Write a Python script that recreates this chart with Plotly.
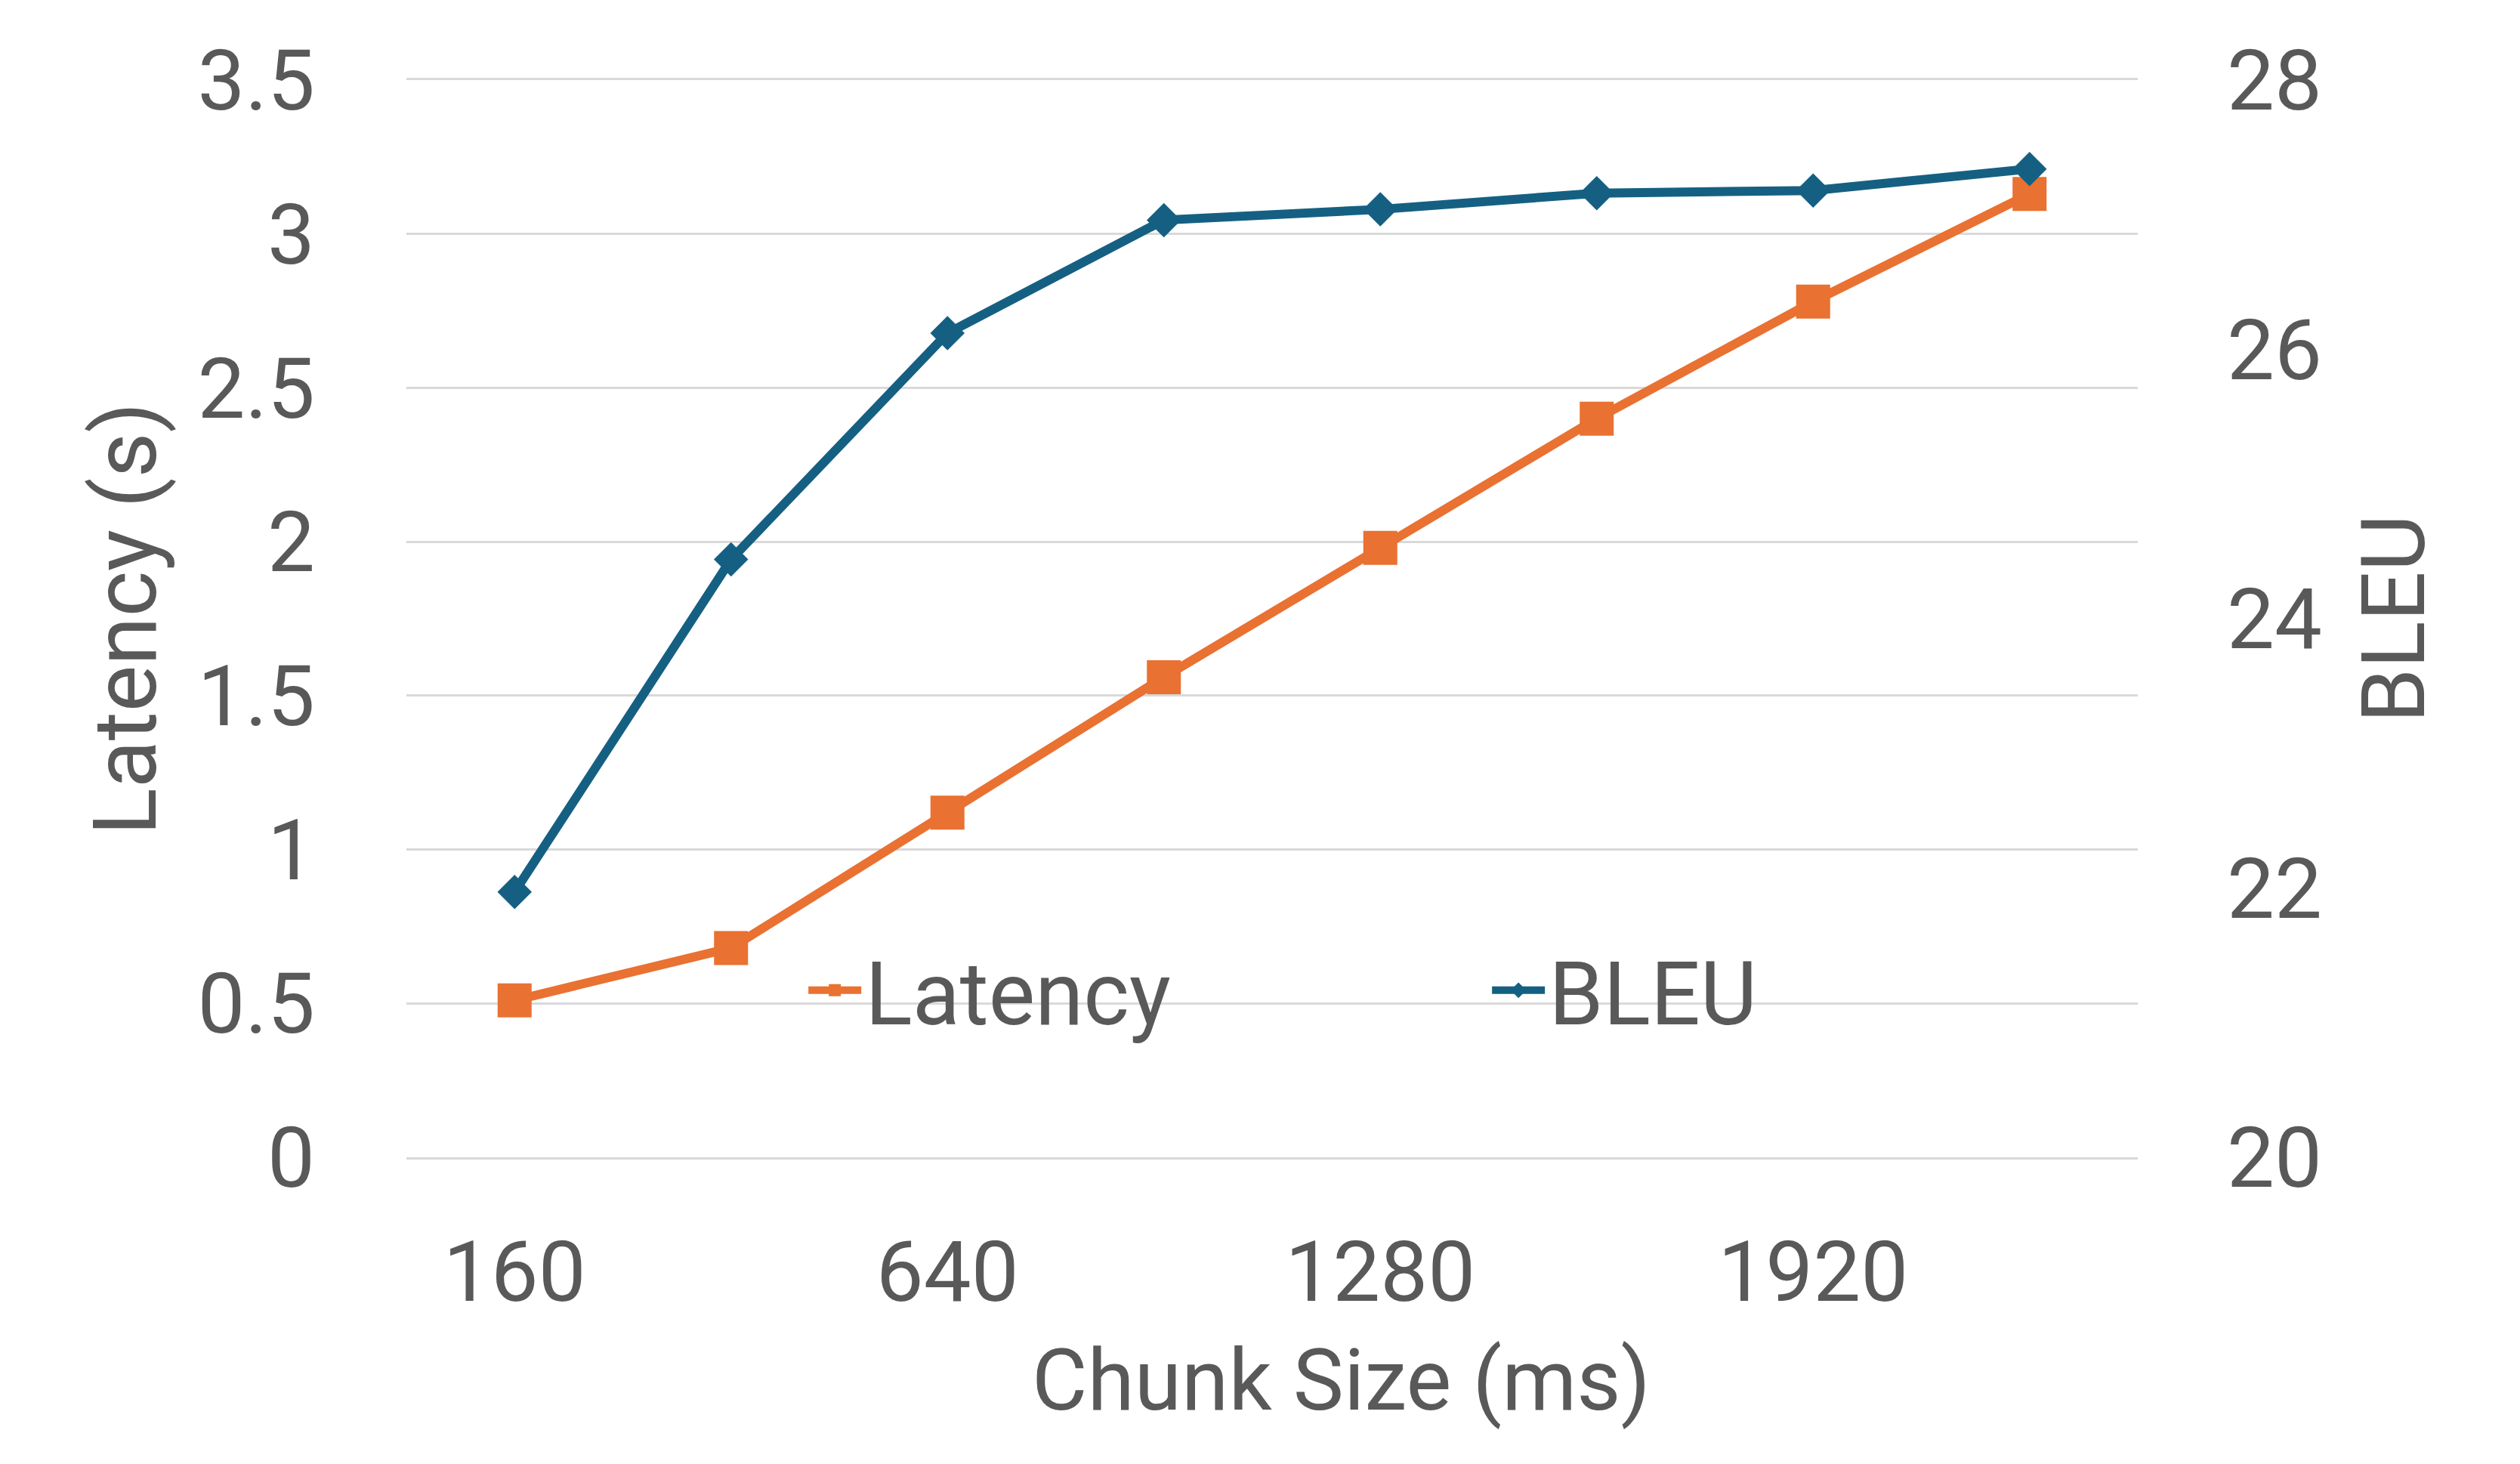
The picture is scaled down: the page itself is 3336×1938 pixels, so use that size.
import plotly.graph_objects as go

chunk_sizes = ["160", "320", "640", "960", "1280", "1600", "1920", "2240"]
shown_ticks = ["160", "640", "1280", "1920"]
latency = [0.51, 0.68, 1.12, 1.56, 1.98, 2.40, 2.78, 3.13]
bleu = [21.97, 24.44, 26.12, 26.96, 27.04, 27.16, 27.18, 27.34]
latency_ticks = [0, 0.5, 1, 1.5, 2, 2.5, 3, 3.5]
latency_ticktext = ["0", "0.5", "1", "1.5", "2", "2.5", "3", "3.5"]
bleu_ticks = [20, 22, 24, 26, 28]

ORANGE = "#E97132"
BLUE = "#156082"
TEXT = "#595959"
GRID = "#D9D9D9"
FONT = "Roboto"

fig = go.Figure()
fig.add_trace(go.Scatter(
    x=chunk_sizes, y=latency, name="Latency", mode="lines+markers",
    line=dict(color=ORANGE, width=12),
    marker=dict(symbol="square", size=45, color=ORANGE),
))
fig.add_trace(go.Scatter(
    x=chunk_sizes, y=bleu, name="BLEU", mode="lines+markers", yaxis="y2",
    line=dict(color=BLUE, width=12),
    marker=dict(symbol="diamond", size=35, color=BLUE),
))

fig.update_layout(
    width=3336, height=1938,
    paper_bgcolor="white", plot_bgcolor="white",
    margin=dict(l=530, r=514, t=98, b=414, autoexpand=False),
    font=dict(family=FONT, color=TEXT, size=112),
    showlegend=True,
    legend=dict(
        orientation="h", x=0.23, y=0.155, xanchor="left", yanchor="middle",
        font=dict(size=116, color=TEXT, family=FONT), bgcolor="rgba(0,0,0,0)",
        entrywidth=820, entrywidthmode="pixels", itemwidth=70,
        traceorder="normal",
    ),
    xaxis=dict(
        type="category", categoryorder="array", categoryarray=chunk_sizes,
        range=[-0.5, 7.5], automargin=False,
        tickmode="array", tickvals=shown_ticks, ticktext=shown_ticks,
        showgrid=False, zeroline=False,
        showline=True, linecolor=GRID, linewidth=3, mirror=True,
        ticks="", ticklabelstandoff=53,
        tickfont=dict(size=112, color=TEXT),
    ),
    yaxis=dict(
        range=[0, 3.5], automargin=False,
        tickmode="array", tickvals=latency_ticks, ticktext=latency_ticktext,
        showgrid=True, gridcolor=GRID, gridwidth=3,
        zeroline=False, showline=False, ticks="", ticklabelstandoff=120,
        tickfont=dict(size=112, color=TEXT),
        title=dict(text="Latency (s)", font=dict(size=116, color=TEXT), standoff=15),
    ),
    yaxis2=dict(
        range=[20, 28], overlaying="y", side="right", automargin=False,
        tickmode="array", tickvals=bleu_ticks,
        showgrid=False, zeroline=False, showline=False, ticks="",
        ticklabelstandoff=117,
        tickfont=dict(size=112, color=TEXT),
        title=dict(text="BLEU", font=dict(size=116, color=TEXT), standoff=54),
    ),
    annotations=[dict(
        text="Chunk Size (ms)", xref="paper", yref="paper",
        x=0.540, y=-0.207, xanchor="center", yanchor="middle",
        showarrow=False, font=dict(size=113, color=TEXT, family=FONT),
    )],
)

fig.write_html("out.html")
